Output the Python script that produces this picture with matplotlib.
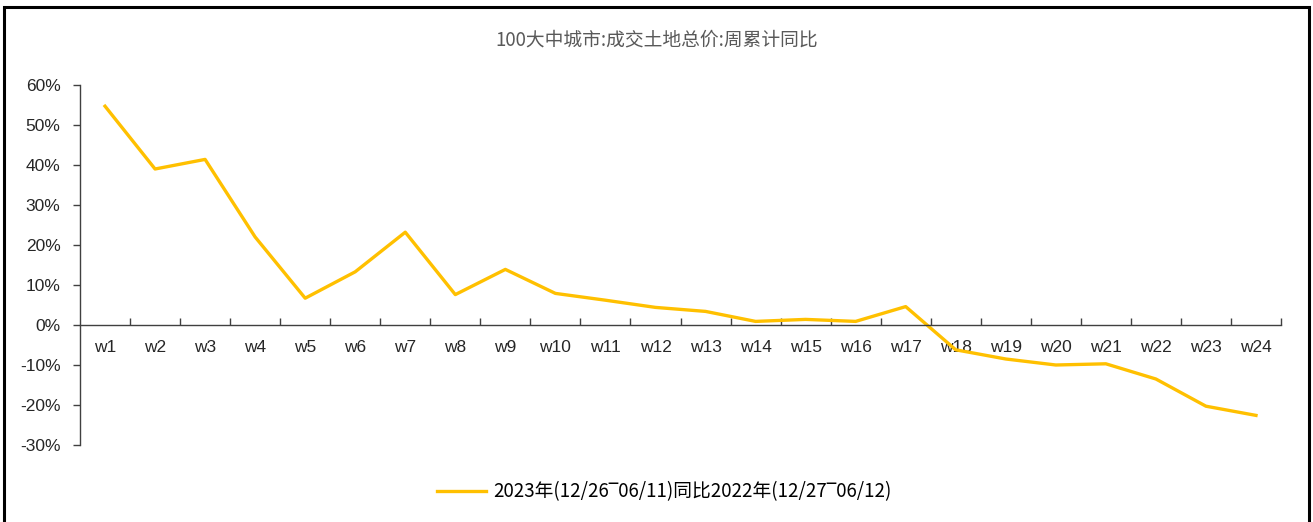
import matplotlib.pyplot as plt
from matplotlib.patches import Rectangle
from matplotlib.ticker import FixedLocator, FuncFormatter

plt.rcParams['font.family'] = ['Liberation Sans', 'Noto Sans CJK SC', 'DejaVu Sans']

weeks = ['w%d' % i for i in range(1, 25)]
yoy = [54.7, 39.0, 41.4, 22.0, 6.7, 13.3, 23.2, 7.6, 13.9, 7.9, 6.2, 4.4,
       3.4, 0.9, 1.4, 0.9, 4.6, -6.2, -8.5, -10.0, -9.7, -13.5, -20.3, -22.6]
title = '100大中城市:成交土地总价:周累计同比'
series_label = '2023年(12/26‾06/11)同比2022年(12/27‾06/12)'

fig = plt.figure(figsize=(13.13, 5.22), dpi=100)
ax = fig.add_axes([80 / 1313, 1 - 445 / 522, 1201 / 1313, 360 / 522])

x = list(range(len(weeks)))
ax.plot(x, yoy, color='#FFC000', linewidth=2.4, label=series_label)

ax.set_xlim(-0.5, len(weeks) - 0.5)
ax.set_ylim(-30, 60)
ax.set_yticks(range(-30, 61, 10))
ax.yaxis.set_major_formatter(FuncFormatter(lambda v, p: '%d%%' % v))
ax.tick_params(axis='y', direction='out', length=5, width=1, labelsize=12.5,
               colors='#404040', labelcolor='#262626', pad=9)

# x axis sits on the zero line, ticks between categories pointing up
ax.spines['bottom'].set_position(('data', 0))
ax.xaxis.set_major_locator(FixedLocator([i + 0.5 for i in x]))
ax.xaxis.set_major_formatter(FuncFormatter(lambda v, p: ''))
ax.xaxis.set_minor_locator(FixedLocator(x))
ax.set_xticklabels(weeks, minor=True)
ax.tick_params(axis='x', which='major', direction='in', length=5, width=1, colors='#404040')
ax.tick_params(axis='x', which='minor', length=0, labelsize=12.5, labelcolor='#262626', pad=11)

for s in ['top', 'right']:
    ax.spines[s].set_visible(False)
for s in ['left', 'bottom']:
    ax.spines[s].set_color('#404040')
    ax.spines[s].set_linewidth(1)

fig.text(0.5, 1 - 40 / 522, title, ha='center', va='center', fontsize=13.5,
         color='#595959', family=['Noto Sans CJK SC', 'DejaVu Sans'])

fig.legend(loc='center', bbox_to_anchor=(0.506, 1 - 492 / 522), frameon=False,
           handlelength=2.6, handletextpad=0.4,
           prop={'family': ['Noto Sans CJK SC', 'DejaVu Sans'], 'size': 13.5})

fig.patches.append(Rectangle((4 / 1313, -0.05), 1305 / 1313, 1 - 7 / 522 + 0.05,
                             transform=fig.transFigure, fill=False,
                             edgecolor='black', linewidth=2.2))

fig.savefig('out.png', dpi=100)
